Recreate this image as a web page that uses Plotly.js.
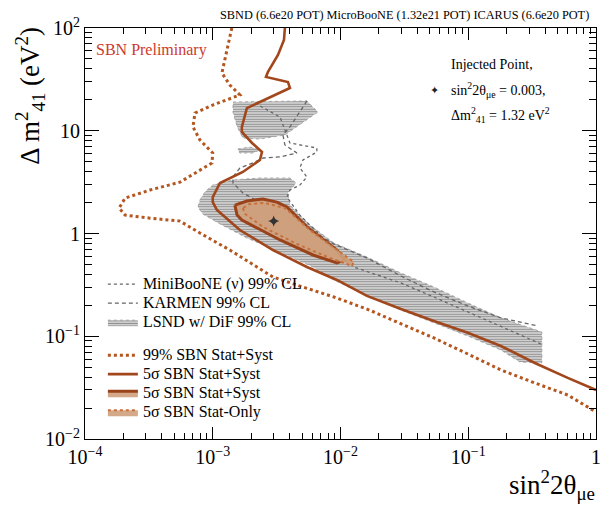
<!DOCTYPE html>
<html><head><meta charset="utf-8">
<script src="https://cdn.plot.ly/plotly-3.0.1.min.js"></script>
<style>body{margin:0;background:#fff}#chart{width:602px;height:505px}</style>
</head><body><div id="chart"></div>
<script>
// 99% SBN Stat+Syst (dotted)
const cl99_x = [1.41e-3,1.29e-3,1.18e-3,1.36e-3,1.63e-3,1.0e-3,7.26e-4,7.0e-4,7.94e-4,1.0e-3,9.86e-4,7.52e-4,5.54e-4,3.23e-4,2.06e-4,1.85e-4,2.06e-4,3.23e-4,5.54e-4,7.94e-4,1.36e-3,2.22e-3,2.96e-3,4.81e-3,8.87e-3,1.61e-2,2.97e-2,5.38e-2,9.93e-2,0.180,0.332,0.601,1.0];
const cl99_y = [100,61.1,36.5,27.9,22.3,17.8,14.9,10.9,8.13,6.07,4.86,3.97,3.16,2.65,2.21,1.77,1.51,1.41,1.32,1.01,0.691,0.472,0.377,0.308,0.241,0.184,0.132,0.0962,0.0672,0.0470,0.0351,0.0268,0.0183];
// 5 sigma SBN Stat+Syst (line)
const s5_x = [3.67e-3,3.61e-3,3.24e-3,2.70e-3,2.61e-3,3.88e-3,4.02e-3,1.85e-3,1.69e-3,1.69e-3,2.03e-3,2.43e-3,2.34e-3,1.72e-3,1.14e-3,1.0e-3,1.0e-3,1.08e-3,1.63e-3,2.96e-3,5.46e-3,9.37e-3,1.61e-2,2.97e-2,5.38e-2,9.93e-2,0.180,0.332,0.601,1.0];
const s5_y = [100,76.4,54.6,37.3,33.4,29.8,26.1,16.6,10.9,9.73,7.60,6.21,5.19,3.97,3.10,2.26,2.02,1.69,1.08,0.691,0.472,0.353,0.247,0.184,0.141,0.108,0.0804,0.0549,0.0393,0.0300];
// 5 sigma closed contour, Stat+Syst
const c5ss_x = [1.49e-3,1.55e-3,1.69e-3,3.36e-3,6.08e-3,9.37e-3,1.08e-2,9.37e-3,5.46e-3,3.81e-3,3.18e-3,2.47e-3,1.85e-3,1.49e-3];
const c5ss_y = [1.89,1.51,1.35,0.865,0.618,0.516,0.552,0.691,1.16,1.81,2.02,2.17,2.07,1.89];
// 5 sigma closed contour, Stat-Only
const c5so_x = [1.72e-3,1.79e-3,2.47e-3,4.56e-3,8.26e-3,1.23e-2,1.27e-2,9.89e-3,5.77e-3,3.67e-3,2.56e-3,1.95e-3,1.72e-3];
const c5so_y = [1.77,1.55,1.16,0.791,0.578,0.483,0.528,0.660,1.08,1.77,1.98,1.94,1.77];
// LSND w/ DiF 99% CL (three pieces)
const lsndA_x = [7.94e-4,8.69e-4,1.0e-3,1.44e-3,2.34e-3,4.02e-3,4.48e-3,3.88e-3,4.02e-3,5.77e-3,8.87e-3,1.61e-2,2.97e-2,5.38e-2,9.93e-2,0.180,0.377,0.377,0.254,0.180,9.93e-2,5.38e-2,2.97e-2,1.61e-2,8.87e-3,6.08e-3,3.36e-3,1.85e-3,1.14e-3,8.36e-4,7.65e-4,7.94e-4];
const lsndA_y = [2.12,2.54,2.96,3.32,3.47,3.47,3.10,2.48,1.89,1.21,0.809,0.590,0.413,0.302,0.211,0.151,0.110,0.0549,0.0561,0.0735,0.1005,0.135,0.180,0.247,0.353,0.472,0.660,0.904,1.24,1.55,1.81,2.12];
const lsndB_x = [1.44e-3,5.46e-3,6.65e-3,4.81e-3,3.67e-3,2.34e-3,1.72e-3,1.55e-3,1.44e-3,1.44e-3];
const lsndB_y = [19.05,19.5,15.2,11.4,9.10,8.30,8.50,11.0,15.2,19.05];
const lsndC_x = [1.57e-3,1.95e-3,2.34e-3,2.06e-3,1.63e-3,1.57e-3];
const lsndC_y = [6.65,6.95,6.50,6.07,6.07,6.65];
// KARMEN 99% CL (dashed)
const karmen_x = [5.46e-3,4.64e-3,4.02e-3,3.54e-3,3.67e-3,4.56e-3,3.36e-3,2.47e-3,2.06e-3,1.63e-3,1.44e-3,1.44e-3,1.72e-3,2.56e-3,4.81e-3,8.87e-3,1.61e-2,2.97e-2,5.38e-2,9.93e-2,0.180,0.351];
const karmen_y = [19.5,14.2,10.9,9.10,7.27,6.07,5.56,5.43,4.86,4.34,3.55,3.10,2.48,1.89,1.21,0.791,0.578,0.386,0.270,0.197,0.151,0.126];
// MiniBooNE (nu) 99% CL (dotted)
const mb_x = [2.14e-3,2.70e-3,3.36e-3,3.67e-3,4.02e-3,6.53e-3,6.53e-3,5.08e-3,4.81e-3,5.46e-3,4.81e-3,4.02e-3,3.81e-3,4.81e-3,8.26e-3,1.27e-2,2.97e-2,5.38e-2,9.93e-2,0.180,0.370];
const mb_y = [18.6,15.9,13.6,10.2,7.60,6.79,6.21,5.19,4.34,3.55,2.96,2.65,2.26,1.51,0.773,0.472,0.330,0.241,0.172,0.126,0.0841];
// injected point
const inj_x = [0.003];
const inj_y = [1.32];
// ticks
const xTickVals = [1e-4,1e-3,1e-2,1e-1,1];
const xTickText = ['10<sup>−4</sup>','10<sup>−3</sup>','10<sup>−2</sup>','10<sup>−1</sup>','1'];
const yTickVals = [1e-2,1e-1,1,10,100];
const yTickText = ['10<sup>−2</sup>','10<sup>−1</sup>','1','10','10<sup>2</sup>'];

function minorVals(lo, hi){const v=[];for(let e=lo;e<hi;e++){for(let d=2;d<=9;d++)v.push(d*Math.pow(10,e));}return v;}
function lg(t){return '<span style="font-size:16px">'+t+'</span>';}

const BROWN='#a2461c', DOT99='#b5561f', TAN='rgba(206,160,124,0.9)', GRAY='#666';
const hatch={shape:'-',fgcolor:'#8a8a8a',bgcolor:'#dedede',size:2.5,solidity:0.45};
const F='Liberation Serif, Times New Roman, serif';

const traces=[
 {x:lsndA_x,y:lsndA_y,mode:'lines',fill:'toself',fillcolor:'rgba(0,0,0,0)',fillpattern:hatch,line:{color:'#999',width:0.8,dash:'dot'},name:lg('LSND w/ DiF 99% CL'),legendgroup:'a',legendrank:3},
 {x:lsndB_x,y:lsndB_y,mode:'lines',fill:'toself',fillcolor:'rgba(0,0,0,0)',fillpattern:hatch,line:{color:'#999',width:0.8,dash:'dot'},showlegend:false,legendgroup:'a'},
 {x:lsndC_x,y:lsndC_y,mode:'lines',fill:'toself',fillcolor:'rgba(0,0,0,0)',fillpattern:hatch,line:{color:'#999',width:0.8,dash:'dot'},showlegend:false,legendgroup:'a'},
 {x:mb_x,y:mb_y,mode:'lines',line:{color:GRAY,width:1.3,dash:'dot'},name:lg('MiniBooNE (ν) 99% CL'),legendgroup:'a',legendrank:1},
 {x:karmen_x,y:karmen_y,mode:'lines',line:{color:GRAY,width:1.3,dash:'4px,3px'},name:lg('KARMEN 99% CL'),legendgroup:'a',legendrank:2},
 {x:c5ss_x,y:c5ss_y,mode:'lines',fill:'toself',fillcolor:TAN,line:{color:'#9a4219',width:3},name:lg('5σ SBN Stat+Syst'),legendgroup:'b',legendrank:6},
 {x:c5so_x,y:c5so_y,mode:'lines',fill:'toself',fillcolor:TAN,line:{color:'#c8703c',width:2,dash:'dot'},name:lg('5σ SBN Stat-Only'),legendgroup:'b',legendrank:7},
 {x:cl99_x,y:cl99_y,mode:'lines',line:{color:DOT99,width:3,dash:'dot'},name:lg('99% SBN Stat+Syst'),legendgroup:'b',legendrank:4},
 {x:s5_x,y:s5_y,mode:'lines',line:{color:BROWN,width:2.6},name:lg('5σ SBN Stat+Syst'),legendgroup:'b',legendrank:5},
 {x:inj_x,y:inj_y,mode:'markers',marker:{symbol:'star-diamond',size:8,color:'#333'},showlegend:false}
];

const axisCommon={type:'log',showline:true,linecolor:'#000',linewidth:1,mirror:'allticks',ticks:'inside',ticklen:12,tickcolor:'#000',showgrid:false,zeroline:false,tickfont:{family:F,size:20,color:'#000'}};
const layout={
 width:602,height:505,margin:{l:85,r:6,t:28,b:66},paper_bgcolor:'#fff',plot_bgcolor:'#fff',
 xaxis:Object.assign({},axisCommon,{range:[-4,0],tickmode:'array',tickvals:xTickVals,ticktext:xTickText,minor:{tickvals:minorVals(-4,0),ticks:'inside',ticklen:6,tickcolor:'#000',showgrid:false}}),
 yaxis:Object.assign({},axisCommon,{range:[-2,2],tickmode:'array',tickvals:yTickVals,ticktext:yTickText,ticklen:14,minor:{tickvals:minorVals(-2,2),ticks:'inside',ticklen:7,tickcolor:'#000',showgrid:false}}),
 showlegend:true,
 legend:{x:0.035,y:0.412,xanchor:'left',yanchor:'top',bgcolor:'rgba(0,0,0,0)',font:{family:F,size:12.3,color:'#000'},tracegroupgap:14,traceorder:'grouped',itemwidth:30},
 annotations:[
  {xref:'paper',yref:'paper',x:0.99,y:1.032,xanchor:'right',yanchor:'middle',text:'SBND (6.6e20 POT) MicroBooNE (1.32e21 POT) ICARUS (6.6e20 POT)',showarrow:false,font:{family:F,size:12.3,color:'#000'}},
  {xref:'paper',yref:'paper',x:0.018,y:0.946,xanchor:'left',yanchor:'middle',text:'SBN Preliminary',showarrow:false,font:{family:F,size:16,color:'#cc3a2e'}},
  {xref:'paper',yref:'paper',x:0.712,y:0.910,xanchor:'left',yanchor:'middle',text:'Injected Point,',showarrow:false,font:{family:F,size:14,color:'#000'}},
  {xref:'paper',yref:'paper',x:0.712,y:0.849,xanchor:'left',yanchor:'middle',text:'sin<sup>2</sup>2θ<sub>μe</sub> = 0.003,',showarrow:false,font:{family:F,size:14,color:'#000'}},
  {xref:'paper',yref:'paper',x:0.712,y:0.788,xanchor:'left',yanchor:'middle',text:'Δm<sup>2</sup><sub>41</sub> = 1.32 eV<sup>2</sup>',showarrow:false,font:{family:F,size:14,color:'#000'}},
  {xref:'paper',yref:'paper',x:0.683,y:0.849,xanchor:'center',yanchor:'middle',text:'✦',showarrow:false,font:{family:'DejaVu Sans',size:11,color:'#222'}},
  {xref:'paper',yref:'paper',x:-0.108,y:0.835,xanchor:'center',yanchor:'middle',textangle:-90,text:'Δ m<sup>2</sup><sub>41</sub> (eV<sup>2</sup>)',showarrow:false,font:{family:F,size:27,color:'#000'}},
  {xref:'paper',yref:'paper',x:1.002,y:-0.112,xanchor:'right',yanchor:'middle',text:'sin<sup>2</sup>2θ<sub>μe</sub>',showarrow:false,font:{family:F,size:27,color:'#000'}}
 ]
};
Plotly.newPlot('chart',traces,layout,{staticPlot:true});
</script></body></html>
